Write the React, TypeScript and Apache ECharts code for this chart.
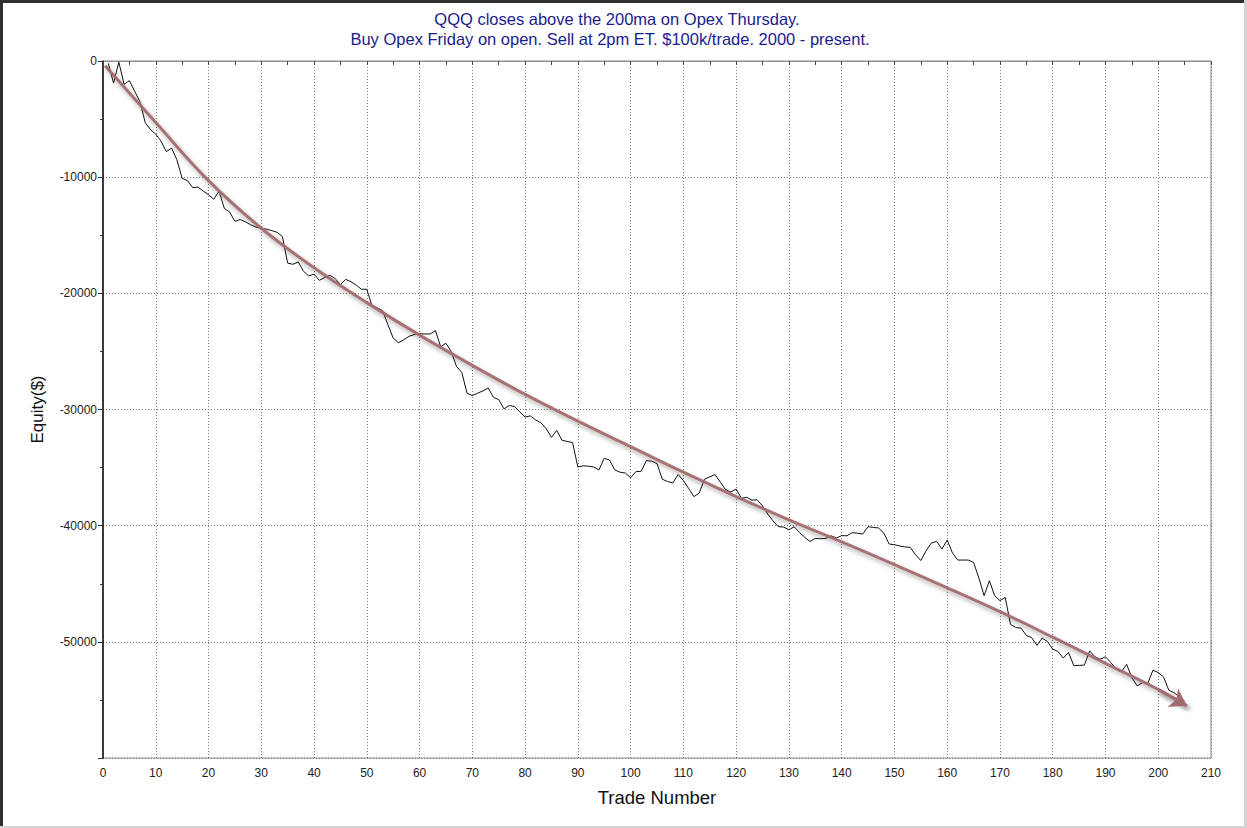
import React, { useEffect, useRef } from 'react';
import * as echarts from 'echarts';

const titleLines = [
  'QQQ closes above the 200ma on Opex Thursday.',
  'Buy Opex Friday on open. Sell at 2pm ET. $100k/trade. 2000 - present.',
];
const xAxisName = 'Trade Number';
const yAxisName = 'Equity($)';
const firstTrade = 1;

// equity after each trade (trade 1 .. 205)
const equity = [
  -200, -1900, -100, -2000, -1700, -2600, -3500, -5300, -5900, -6300,
  -6900, -7800, -7500, -8500, -10100, -10300, -10900, -10850, -11200, -11500,
  -11900, -11200, -12700, -13000, -13800, -13650, -13850, -14100, -14300, -14400,
  -14480, -14600, -14750, -15100, -17400, -17500, -17300, -18100, -18500, -18350,
  -18880, -18650, -18450, -18730, -19250, -18800, -19000, -19300, -19650, -19650,
  -21100, -21250, -21500, -22700, -23850, -24250, -24000, -23700, -23550, -23470,
  -23500, -23500, -23200, -24600, -24300, -25000, -26300, -26800, -28600, -28800,
  -28600, -28400, -28150, -28950, -29150, -29950, -29650, -29750, -30200, -30650,
  -30550, -30900, -31150, -31650, -32400, -31800, -32650, -32750, -32850, -34950,
  -34850, -34880, -34950, -35200, -34200, -34350, -35200, -35400, -35470, -35880,
  -35350, -35320, -34400, -34450, -34650, -36000, -36200, -36320, -35600, -36100,
  -36800, -37500, -37200, -36000, -35800, -35600, -36250, -36900, -37100, -36850,
  -37650, -37560, -37800, -37780, -38300, -39000, -39600, -40090, -40120, -40350,
  -40100, -40580, -41000, -41360, -41100, -41120, -41100, -40880, -41060, -40860,
  -40870, -40600, -40650, -40720, -40090, -40150, -40200, -40650, -41580, -41640,
  -41750, -41830, -41870, -42500, -43000, -42160, -41500, -41350, -42010, -41240,
  -42350, -42960, -42960, -42960, -43160, -44500, -46030, -44740, -46030, -46450,
  -46180, -48500, -48770, -48820, -49450, -49630, -50300, -49680, -49970, -50630,
  -50830, -51400, -50920, -52050, -52030, -52000, -50780, -51290, -51490, -51290,
  -51780, -52300, -52590, -51930, -53080, -53790, -53510, -53590, -52440, -52650,
  -53020, -54160, -54370, -54740, -55100,
];

// hand-drawn trend arrow
const trendTrades = [0.4, 10, 20, 30, 40, 50, 60, 70, 80, 90, 100, 110, 120, 130, 140, 150, 160, 170, 180, 190, 200, 205.4];
const trendValues = [
  -400, -5300, -10300, -14400, -17800, -20800, -23600, -26200, -28700, -31000,
  -33200, -35400, -37500, -39500, -41400, -43350, -45350, -47400, -49600, -51850,
  -54100, -55500,
];

const xMin = 0;
const xMax = 210;
const xStep = 10;
const yMin = -60000;
const yMax = 0;
const yStep = 10000;

const FONT = 'Liberation Sans, Arial, sans-serif';

export default function App() {
  const ref = useRef<HTMLDivElement>(null);

  useEffect(() => {
    document.body.style.margin = '0';
    const chart = echarts.init(ref.current!, null, { renderer: 'svg' });

    const eqData = equity.map((v, i) => [firstTrade + i, v]);
    const trendData = trendTrades.map((t, i) => [t, trendValues[i]]);
    const n = trendData.length;

    const trendColor = '#a36b6f';
    const shadow = {
      shadowColor: 'rgba(0,0,0,0.35)',
      shadowBlur: 4,
      shadowOffsetX: 2,
      shadowOffsetY: 3,
    };
    const gridLine = { color: '#7a7a7a', type: [1, 2], width: 1 };

    chart.setOption({
      animation: false,
      backgroundColor: '#ffffff',
      grid: {
        left: 103,
        right: 36,
        top: 61,
        bottom: 70,
        show: true,
        borderColor: '#8c8c8c',
        borderWidth: 1,
      },
      graphic: [
        { type: 'rect', shape: { x: 0, y: 0, width: 1247, height: 3 }, style: { fill: '#303030' }, silent: true },
        { type: 'rect', shape: { x: 0, y: 0, width: 3, height: 828 }, style: { fill: '#303030' }, silent: true },
        { type: 'rect', shape: { x: 1244, y: 0, width: 3, height: 828 }, style: { fill: '#d4d4d4' }, silent: true },
        { type: 'rect', shape: { x: 0, y: 826, width: 1247, height: 2 }, style: { fill: '#d4d4d4' }, silent: true },
        {
          type: 'text',
          x: 617,
          y: 19,
          style: { text: titleLines[0], fill: '#1c1c8c', font: `16.5px ${FONT}`, textAlign: 'center', textVerticalAlign: 'middle' },
        },
        {
          type: 'text',
          x: 610,
          y: 39,
          style: { text: titleLines[1], fill: '#1c1c8c', font: `16.5px ${FONT}`, textAlign: 'center', textVerticalAlign: 'middle' },
        },
      ],
      xAxis: [
        {
          type: 'value',
          min: xMin,
          max: xMax,
          interval: xStep,
          name: xAxisName,
          nameLocation: 'middle',
          nameGap: 30,
          nameTextStyle: { fontFamily: FONT, fontSize: 18.5, color: '#111' },
          axisLine: { show: true, lineStyle: { color: '#8c8c8c', width: 1 } },
          axisTick: { show: false },
          axisLabel: { fontFamily: FONT, fontSize: 12, color: '#222', margin: 9 },
          splitLine: { show: true, lineStyle: gridLine },
        },
        {
          type: 'value',
          position: 'top',
          min: xMin,
          max: xMax,
          interval: xStep / 2,
          axisLine: { show: true, lineStyle: { color: '#8c8c8c', width: 1 } },
          axisTick: { show: true, inside: true, length: 4, lineStyle: { color: '#444' } },
          axisLabel: { show: false },
          splitLine: { show: false },
        },
      ],
      yAxis: [
        {
          type: 'value',
          min: yMin,
          max: yMax,
          interval: yStep,
          name: yAxisName,
          nameLocation: 'middle',
          nameRotate: 90,
          nameGap: 57,
          nameTextStyle: { fontFamily: FONT, fontSize: 17, color: '#111' },
          axisLine: { show: true, onZero: false, lineStyle: { color: '#111', width: 1.5 } },
          axisTick: { show: true, length: 5, lineStyle: { color: '#333' } },
          minorTick: { show: true, splitNumber: 2, length: 3, lineStyle: { color: '#333' } },
          axisLabel: {
            fontFamily: FONT,
            fontSize: 12,
            color: '#222',
            margin: 6,
            formatter: (v: number) => (v === yMin ? '' : String(v)),
          },
          splitLine: { show: true, lineStyle: gridLine },
        },
      ],
      series: [
        {
          type: 'line',
          data: eqData,
          symbol: 'none',
          silent: true,
          lineStyle: { color: '#111', width: 1 },
          z: 3,
        },
        {
          type: 'line',
          data: trendData,
          smooth: 0.4,
          symbol: 'none',
          silent: true,
          lineStyle: { color: trendColor, width: 3, opacity: 0.95, ...shadow },
          z: 4,
          markLine: {
            silent: true,
            symbol: ['none', 'arrow'],
            symbolSize: 16,
            label: { show: false },
            lineStyle: { color: trendColor, width: 3, type: 'solid', ...shadow },
            itemStyle: { color: trendColor, ...shadow },
            data: [
              [
                { coord: trendData[n - 2] },
                { coord: trendData[n - 1] },
              ],
            ],
          },
        },
      ],
    });

    return () => chart.dispose();
  }, []);

  return <div ref={ref} style={{ width: 1247, height: 828 }} />;
}
